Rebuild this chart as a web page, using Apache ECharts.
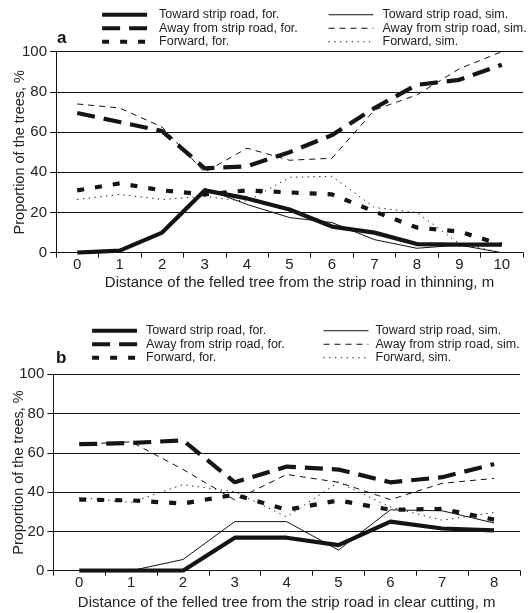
<!DOCTYPE html>
<html>
<head>
<meta charset="utf-8">
<script src="https://cdn.jsdelivr.net/npm/echarts@6/dist/echarts.min.js"></script>
<style>
html,body{margin:0;padding:0;background:#fff;}
#main{width:531px;height:613px;}
</style>
</head>
<body>
<div id="main"></div>
<script>
// ---- Data ----
const catsA = ['0','1','2','3','4','5','6','7','8','9','10'];
const towardForA = [0, 1, 10, 31, 27, 21.5, 13, 10, 4.3, 4, 4];
const towardSimA = [0, 1, 10, 32, 24, 17.5, 15, 6.5, 2.2, 3.8, 0];
const awayForA   = [69.5, 65, 60.5, 42, 43, 50, 58.5, 72, 83.5, 86, 93.5];
const awaySimA   = [74, 72, 62.5, 40, 52, 46, 47, 71, 78.5, 91.5, 100];
const fwdForA    = [31, 34.5, 31, 29, 31, 30, 29, 20.5, 12.5, 10.5, 4];
const fwdSimA    = [26.5, 29, 26.5, 28, 25.5, 37.5, 38, 22.5, 20, 4.5, 0];

const catsB = ['0','1','2','3','4','5','6','7','8'];
const towardForB = [0, 0, 0, 16.8, 16.8, 13, 25, 21.5, 20.5];
const towardSimB = [0, 0, 5.7, 25, 25, 10.5, 31, 30.5, 24.3];
const awayForB   = [64.4, 65, 66.4, 45, 53, 51.5, 45, 47.6, 54.3];
const awaySimB   = [64.4, 65.6, 51.6, 36, 49, 45, 36.2, 44.5, 47];
const fwdForB    = [36.2, 35.8, 34.2, 38.7, 31, 35.8, 31, 31.5, 26];
const fwdSimB    = [37.2, 34.8, 43.8, 40.2, 27.4, 45.1, 32.4, 25.7, 29.6];

const yTicks = [0, 20, 40, 60, 80, 100];
const names = ['Toward strip road, for.', 'Away from strip road, for.', 'Forward, for.',
               'Toward strip road, sim.', 'Away from strip road, sim.', 'Forward, sim.'];
const xNameA = 'Distance of the felled tree from the strip road in thinning, m';
const xNameB = 'Distance of the felled tree from the strip road in clear cutting, m';
const yName = 'Proportion of the trees, %';

// ---- Styles ----
const FONT = 'Liberation Sans, Arial, sans-serif';
const TXT = '#222';
const styles = [
  {width: 4.2, type: 'solid', color: '#151515'},
  {width: 4.2, type: [18, 9], color: '#151515'},
  {width: 4.2, type: [7, 11], color: '#151515'},
  {width: 1, type: 'solid', color: '#111'},
  {width: 1, type: [6, 5], color: '#111'},
  {width: 1, type: [1.3, 4.5], color: '#111'}
];

function mkSeries(idx, arrs) {
  return arrs.map((d, i) => ({
    name: names[i], type: 'line', xAxisIndex: idx, yAxisIndex: idx,
    data: d, symbol: 'none', showSymbol: false, silent: true,
    lineStyle: {width: styles[i].width, type: styles[i].type, color: styles[i].color, cap: 'butt'},
    itemStyle: {color: styles[i].color},
    z: i < 3 ? 3 : 4, animation: false
  }));
}

function mkX(cats, gridIdx, nameStr, nameGap, namePad) {
  return {
    type: 'category', gridIndex: gridIdx, data: cats, boundaryGap: true,
    axisLine: {lineStyle: {color: '#111', width: 1}},
    axisTick: {show: true, length: 5, lineStyle: {color: '#111'}},
    axisLabel: {color: TXT, fontSize: 15, fontFamily: FONT, margin: 5},
    name: nameStr, nameLocation: 'middle', nameGap: nameGap, nameMoveOverlap: false,
    nameTextStyle: {color: TXT, fontSize: 15, fontFamily: FONT, padding: namePad}
  };
}
function mkY(gridIdx, nameGap) {
  return {
    type: 'value', gridIndex: gridIdx, min: yTicks[0], max: yTicks[yTicks.length-1], interval: 20,
    axisLine: {show: true, lineStyle: {color: '#111', width: 1}},
    axisTick: {show: true, length: 6, lineStyle: {color: '#111'}},
    axisLabel: {color: TXT, fontSize: 15, fontFamily: FONT, margin: 9},
    splitLine: {show: true, lineStyle: {color: '#111', width: 1}},
    name: yName, nameLocation: 'middle', nameGap: nameGap, nameRotate: 90, nameMoveOverlap: false,
    nameTextStyle: {color: TXT, fontSize: 14.5, fontFamily: FONT}
  };
}
function mkLegend(left, top, list, pad) {
  return {
    orient: 'vertical', left: left, top: top, padding: 0, itemGap: 0,
    itemWidth: 45, itemHeight: 12, selectedMode: false,
    data: list,
    itemStyle: {color: 'rgba(0,0,0,0)', borderWidth: 0, opacity: 0},
    lineStyle: {width: 'inherit', type: 'inherit', color: 'inherit', opacity: 1},
    formatter: n => '{p|}' + n,
    textStyle: {color: TXT, fontSize: 12.5, fontFamily: FONT, lineHeight: 13.5,
      rich: {p: {width: pad}}}
  };
}

const option = {
  backgroundColor: '#fff',
  animation: false,
  title: [
    {text: 'a', left: 57, top: 30, padding: 0, textStyle: {fontSize: 17, fontWeight: 'bold', color: '#111', fontFamily: FONT}},
    {text: 'b', left: 56, top: 350, padding: 0, textStyle: {fontSize: 17, fontWeight: 'bold', color: '#111', fontFamily: FONT}}
  ],
  legend: [
    mkLegend(100, 8, names.slice(0, 3), 7),
    mkLegend(328, 8, names.slice(3), 4),
    mkLegend(90, 324, names.slice(0, 3), 4),
    mkLegend(323, 324, names.slice(3), 2)
  ],
  grid: [
    {left: 56, right: 8, top: 51.7, height: 201, containLabel: false, outerBoundsMode: 'none'},
    {left: 53.3, right: 11, top: 374.3, height: 196.4, containLabel: false, outerBoundsMode: 'none'}
  ],
  xAxis: [
    mkX(catsA, 0, xNameA, 23, [0, 0, 0, 20]),
    mkX(catsB, 1, xNameB, 25, [0, 0, 0, 0])
  ],
  yAxis: [mkY(0, 28.5), mkY(1, 26.5)],
  series: mkSeries(0, [towardForA, awayForA, fwdForA, towardSimA, awaySimA, fwdSimA])
    .concat(mkSeries(1, [towardForB, awayForB, fwdForB, towardSimB, awaySimB, fwdSimB]))
};

const chart = echarts.init(document.getElementById('main'), null, {renderer: 'canvas'});
chart.setOption(option);
</script>
</body>
</html>
